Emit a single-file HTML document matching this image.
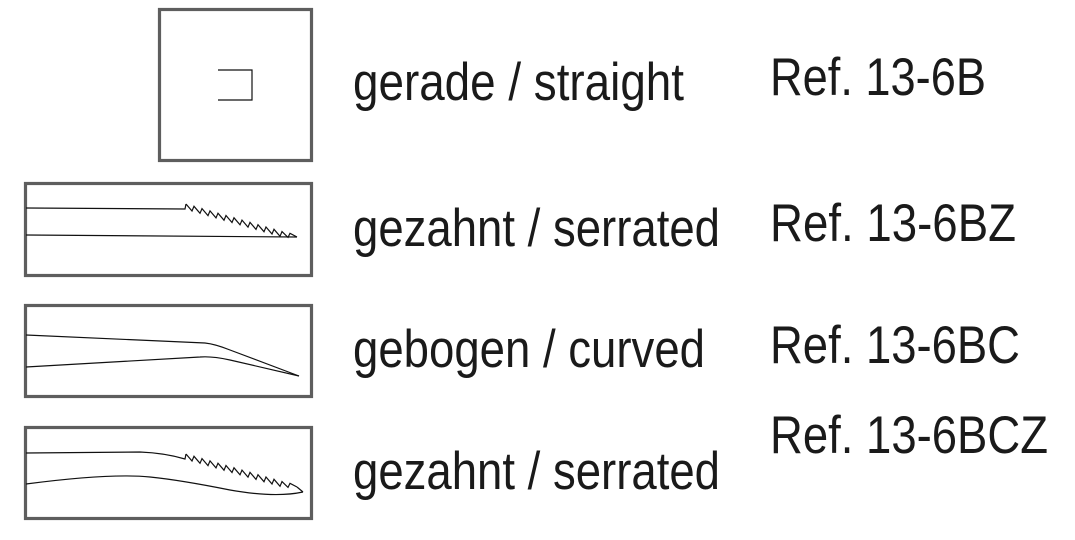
<!DOCTYPE html>
<html><head><meta charset="utf-8"><style>
html,body{margin:0;padding:0;background:#fff;}
svg{display:block;}
text{font-family:"Liberation Sans",Arial,sans-serif;font-size:53px;fill:#1a1a1a;}
</style></head><body>
<svg width="1075" height="540" viewBox="0 0 1075 540" xmlns="http://www.w3.org/2000/svg">
<g fill="none" stroke="#5e5e5e" stroke-width="3.2">
<rect x="159.5" y="9.5" width="152" height="151"/>
<rect x="25.5" y="183.5" width="286" height="92"/>
<rect x="25.5" y="305.5" width="286" height="91"/>
<rect x="25.5" y="427.5" width="286" height="91"/>
</g>
<g fill="none" stroke="#111" stroke-width="1.2" stroke-linejoin="miter">
<path d="M218 70 H252 V100 H218"/>
<path d="M26 208 L185 209 L186 204"/>
<g id="teeth">
<path d="M186 204 L192 211 L194 206.3 L200 213.3 L202 208.6 L208 215.6 L210 210.9 L216 217.9 L218 213.2 L224 220.2 L226 215.5 L232 222.5 L234 217.8 L240 224.8 L242 220.1 L248 227.1 L250 222.4 L256 229.4 L258 224.7 L264 231.7 L266 227 L272 234 L274 229.3 L280 236.3 L282 231.6 L288 237.4 L290 233.3 L297 237"/>
</g>
<path d="M26 235 L297 237"/>
<path d="M26 335 L205 343 Q215 344 230 350 L299 376"/>
<path d="M26 367 L200 357 Q212 356 230 360 L299 376"/>
<path d="M26 453 L140 452 Q165 453 185 459 L186 454"/>
<use href="#teeth" transform="translate(0,250)"/>
<path d="M297 487 L303 492"/>
<path d="M26 484 Q110 473 150 477 Q180 480 230 490 Q275 498 303 492"/>
</g>
<text x="353" y="100" textLength="331" lengthAdjust="spacingAndGlyphs">gerade / straight</text>
<text x="353" y="246" textLength="367" lengthAdjust="spacingAndGlyphs">gezahnt / serrated</text>
<text x="353" y="367" textLength="352" lengthAdjust="spacingAndGlyphs">gebogen / curved</text>
<text x="353" y="489" textLength="367" lengthAdjust="spacingAndGlyphs">gezahnt / serrated</text>
<text x="770" y="95" textLength="216" lengthAdjust="spacingAndGlyphs">Ref. 13-6B</text>
<text x="770" y="241" textLength="246" lengthAdjust="spacingAndGlyphs">Ref. 13-6BZ</text>
<text x="770" y="363" textLength="250" lengthAdjust="spacingAndGlyphs">Ref. 13-6BC</text>
<text x="770" y="453" textLength="278" lengthAdjust="spacingAndGlyphs">Ref. 13-6BCZ</text>
</svg>
</body></html>
